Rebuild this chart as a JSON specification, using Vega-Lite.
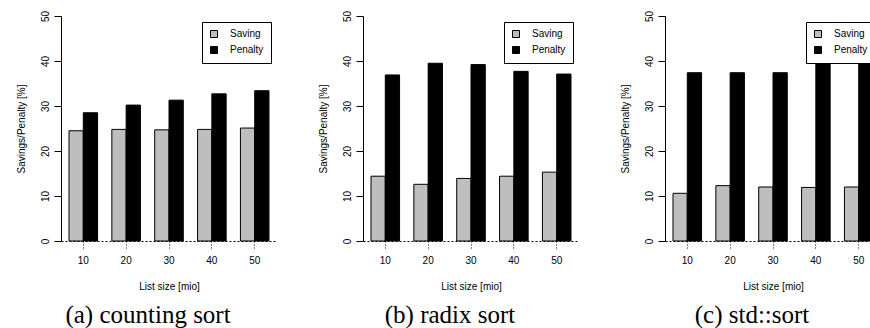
{
  "$schema": "https://vega.github.io/schema/vega-lite/v6.json",
  "autosize": {"type": "pad"},
  "padding": {"left": 16, "top": 10, "right": 0, "bottom": 0},
  "background": "white",
  "datasets": {
    "sorts": [
      {"algo": "counting", "size": 10, "measure": "Saving", "value": 24.5},
      {"algo": "counting", "size": 10, "measure": "Penalty", "value": 28.5},
      {"algo": "counting", "size": 20, "measure": "Saving", "value": 24.8},
      {"algo": "counting", "size": 20, "measure": "Penalty", "value": 30.2},
      {"algo": "counting", "size": 30, "measure": "Saving", "value": 24.7},
      {"algo": "counting", "size": 30, "measure": "Penalty", "value": 31.3},
      {"algo": "counting", "size": 40, "measure": "Saving", "value": 24.8},
      {"algo": "counting", "size": 40, "measure": "Penalty", "value": 32.7},
      {"algo": "counting", "size": 50, "measure": "Saving", "value": 25.1},
      {"algo": "counting", "size": 50, "measure": "Penalty", "value": 33.4},
      {"algo": "radix", "size": 10, "measure": "Saving", "value": 14.4},
      {"algo": "radix", "size": 10, "measure": "Penalty", "value": 36.9},
      {"algo": "radix", "size": 20, "measure": "Saving", "value": 12.6},
      {"algo": "radix", "size": 20, "measure": "Penalty", "value": 39.5},
      {"algo": "radix", "size": 30, "measure": "Saving", "value": 13.9},
      {"algo": "radix", "size": 30, "measure": "Penalty", "value": 39.2},
      {"algo": "radix", "size": 40, "measure": "Saving", "value": 14.4},
      {"algo": "radix", "size": 40, "measure": "Penalty", "value": 37.7},
      {"algo": "radix", "size": 50, "measure": "Saving", "value": 15.3},
      {"algo": "radix", "size": 50, "measure": "Penalty", "value": 37.1},
      {"algo": "std", "size": 10, "measure": "Saving", "value": 10.6},
      {"algo": "std", "size": 10, "measure": "Penalty", "value": 37.4},
      {"algo": "std", "size": 20, "measure": "Saving", "value": 12.3},
      {"algo": "std", "size": 20, "measure": "Penalty", "value": 37.4},
      {"algo": "std", "size": 30, "measure": "Saving", "value": 12.0},
      {"algo": "std", "size": 30, "measure": "Penalty", "value": 37.4},
      {"algo": "std", "size": 40, "measure": "Saving", "value": 11.9},
      {"algo": "std", "size": 40, "measure": "Penalty", "value": 42.0},
      {"algo": "std", "size": 50, "measure": "Saving", "value": 12.0},
      {"algo": "std", "size": 50, "measure": "Penalty", "value": 42.0}
    ]
  },
  "data": {"name": "sorts"},
  "config": {
    "font": "Liberation Sans",
    "view": {"stroke": null},
    "axis": {
      "grid": false,
      "domainColor": "black",
      "tickColor": "black",
      "labelColor": "black",
      "titleColor": "black",
      "labelFontSize": 10,
      "titleFontSize": 10,
      "titleFontWeight": "normal",
      "tickSize": 7,
      "domainWidth": 1,
      "tickWidth": 1
    },
    "axisY": {"labelAngle": -90, "labelPadding": 4, "titlePadding": 14},
    "axisX": {"labelAngle": 0, "labelPadding": 7, "titlePadding": 16, "domainDash": [2, 2], "tickDash": [1, 2]},
    "legend": {
      "orient": "top-right",
      "offset": 6,
      "padding": 7,
      "strokeColor": "black",
      "fillColor": "white",
      "symbolType": "square",
      "symbolSize": 49,
      "symbolStrokeColor": "black",
      "symbolStrokeWidth": 1,
      "labelFontSize": 10,
      "labelColor": "black",
      "labelOffset": 11,
      "rowPadding": 4,
      "cornerRadius": 0
    }
  },
  "bounds": "flush",
  "spacing": 86,
  "resolve": {"scale": {"fill": "independent", "y": "independent", "x": "independent"}, "legend": {"fill": "independent"}},
  "hconcat": [
    {
      "title": {"text": "(a) counting sort", "orient": "bottom", "font": "Liberation Serif", "fontSize": 25, "fontWeight": "normal", "color": "black", "anchor": "middle", "dx": -21, "offset": 12},
      "transform": [{"filter": "datum.algo == 'counting'"}],
      "width": 216,
      "height": 225,
      "mark": {"type": "bar", "stroke": "black", "strokeWidth": 1},
      "encoding": {
        "x": {"field": "size", "type": "ordinal", "title": "List size [mio]", "scale": {"paddingInner": 0.3333, "paddingOuter": 0.1867}},
        "xOffset": {"field": "measure", "type": "nominal", "sort": ["Saving", "Penalty"], "scale": {"paddingInner": 0, "paddingOuter": 0}},
        "y": {"field": "value", "type": "quantitative", "title": "Savings/Penalty [%]", "scale": {"domain": [0, 50]}, "axis": {"values": [0, 10, 20, 30, 40, 50]}},
        "fill": {"field": "measure", "type": "nominal", "sort": ["Saving", "Penalty"], "scale": {"domain": ["Saving", "Penalty"], "range": ["#bebebe", "#000000"]}, "legend": {"title": null}}
      }
    },
    {
      "title": {"text": "(b) radix sort", "orient": "bottom", "font": "Liberation Serif", "fontSize": 25, "fontWeight": "normal", "color": "black", "anchor": "middle", "dx": -21, "offset": 12},
      "transform": [{"filter": "datum.algo == 'radix'"}],
      "width": 216,
      "height": 225,
      "mark": {"type": "bar", "stroke": "black", "strokeWidth": 1},
      "encoding": {
        "x": {"field": "size", "type": "ordinal", "title": "List size [mio]", "scale": {"paddingInner": 0.3333, "paddingOuter": 0.1867}},
        "xOffset": {"field": "measure", "type": "nominal", "sort": ["Saving", "Penalty"], "scale": {"paddingInner": 0, "paddingOuter": 0}},
        "y": {"field": "value", "type": "quantitative", "title": "Savings/Penalty [%]", "scale": {"domain": [0, 50]}, "axis": {"values": [0, 10, 20, 30, 40, 50]}},
        "fill": {"field": "measure", "type": "nominal", "sort": ["Saving", "Penalty"], "scale": {"domain": ["Saving", "Penalty"], "range": ["#bebebe", "#000000"]}, "legend": {"title": null}}
      }
    },
    {
      "title": {"text": "(c) std::sort", "orient": "bottom", "font": "Liberation Serif", "fontSize": 25, "fontWeight": "normal", "color": "black", "anchor": "middle", "dx": -21, "offset": 12},
      "transform": [{"filter": "datum.algo == 'std'"}],
      "width": 216,
      "height": 225,
      "mark": {"type": "bar", "stroke": "black", "strokeWidth": 1},
      "encoding": {
        "x": {"field": "size", "type": "ordinal", "title": "List size [mio]", "scale": {"paddingInner": 0.3333, "paddingOuter": 0.1867}},
        "xOffset": {"field": "measure", "type": "nominal", "sort": ["Saving", "Penalty"], "scale": {"paddingInner": 0, "paddingOuter": 0}},
        "y": {"field": "value", "type": "quantitative", "title": "Savings/Penalty [%]", "scale": {"domain": [0, 50]}, "axis": {"values": [0, 10, 20, 30, 40, 50]}},
        "fill": {"field": "measure", "type": "nominal", "sort": ["Saving", "Penalty"], "scale": {"domain": ["Saving", "Penalty"], "range": ["#bebebe", "#000000"]}, "legend": {"title": null}}
      }
    }
  ]
}
